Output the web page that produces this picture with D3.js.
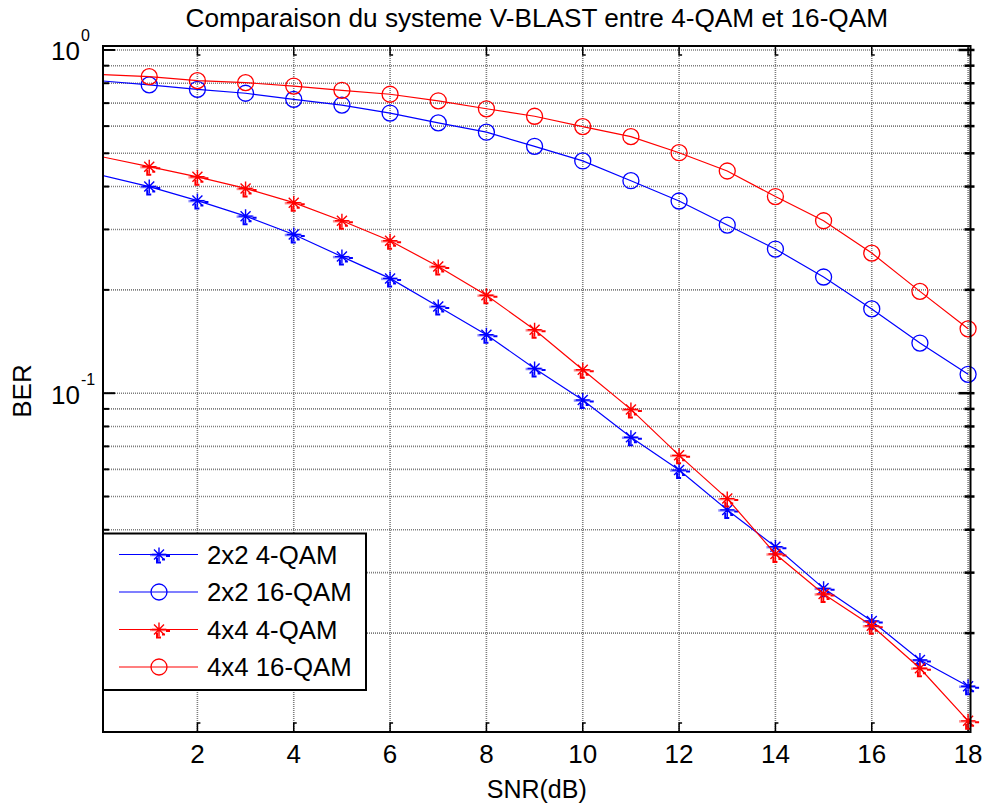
<!doctype html>
<html lang="fr">
<head>
<meta charset="utf-8">
<title>V-BLAST 4-QAM / 16-QAM</title>
<script src="https://cdn.jsdelivr.net/npm/d3@7"></script>
<style>
body { margin: 0; background: #fff; }
text { font-family: "Liberation Sans", Arial, sans-serif; fill: #000; }
</style>
</head>
<body>
<div id="chart"></div>
<script>

// SNR en dB (le point 0 existe mais tombe juste hors de l'axe)
var snr = [0, 1, 2, 3, 4, 5, 6, 7, 8, 9, 10, 11, 12, 13, 14, 15, 16, 17, 18];

var ber2x2_4qam  = [0.432, 0.400, 0.364, 0.328, 0.290, 0.250, 0.216, 0.179, 0.148, 0.118, 0.0955, 0.0744, 0.0597, 0.0457, 0.0357, 0.0270, 0.0217, 0.0167, 0.0140];
var ber2x2_16qam = [0.813, 0.791, 0.768, 0.748, 0.718, 0.691, 0.655, 0.613, 0.576, 0.524, 0.475, 0.416, 0.363, 0.309, 0.263, 0.218, 0.176, 0.140, 0.1135];
var ber4x4_4qam  = [0.489, 0.457, 0.427, 0.395, 0.359, 0.318, 0.278, 0.234, 0.193, 0.153, 0.117, 0.0897, 0.0659, 0.0493, 0.0340, 0.0260, 0.0210, 0.0158, 0.0111];
var ber4x4_16qam = [0.848, 0.836, 0.814, 0.803, 0.785, 0.763, 0.743, 0.711, 0.674, 0.641, 0.598, 0.559, 0.502, 0.444, 0.374, 0.318, 0.256, 0.198, 0.154];

var seriesNames  = ["2x2 4-QAM", "2x2 16-QAM", "4x4 4-QAM", "4x4 16-QAM"];
var seriesColors = ["#0000ff", "#0000ff", "#ff0000", "#ff0000"];
var seriesMarker = ["star", "circle", "star", "circle"];

var xTicks = [2, 4, 6, 8, 10, 12, 14, 16, 18];
var yTickExps = [0, -1];

var width = 984, height = 805;
var pLeft = 103, pRight = 970.5, pTop = 46, pBottom = 732;

var svg = d3.select("#chart").append("svg")
    .attr("width", width)
    .attr("height", height);

var x = d3.scaleLinear().domain([0.04, 18.05]).range([pLeft, pRight]);
var y = d3.scaleLog().domain([0.0103, 1.027]).range([pBottom, pTop]);

var allSeries = [ber2x2_4qam, ber2x2_16qam, ber4x4_4qam, ber4x4_16qam];

// grille
var grid = svg.append("g");
var minorY = [];
[0.01, 0.1].forEach(function(dec) {
	for (var k = 1; k <= 9; k++) {
		var v = dec * k;
		if (v >= y.domain()[0] && v <= y.domain()[1]) minorY.push(v);
	}
});
minorY.push(1);

grid.selectAll("line.gy")
	.data(minorY)
	.enter().append("line")
	.attr("x1", pLeft).attr("x2", pRight)
	.attr("y1", function(d) { return y(d); })
	.attr("y2", function(d) { return y(d); })
	.attr("stroke", "#7c7c7c")
	.attr("stroke-width", 1.6)
	.attr("stroke-dasharray", "1,1");

grid.selectAll("line.gx")
	.data(xTicks)
	.enter().append("line")
	.attr("x1", function(d) { return x(d); })
	.attr("x2", function(d) { return x(d); })
	.attr("y1", pTop).attr("y2", pBottom)
	.attr("stroke", "#7c7c7c")
	.attr("stroke-width", 1.6)
	.attr("stroke-dasharray", "1,1");

// ticks (a l'interieur, style matlab)
var ticks = svg.append("g").attr("stroke", "#000");
minorY.forEach(function(v) {
	var major = (v === 1 || Math.abs(v - 0.1) < 1e-9);
	var len = major ? 12 : 6;
	ticks.append("line").attr("x1", pLeft).attr("x2", pLeft + len)
		.attr("y1", y(v)).attr("y2", y(v)).attr("stroke-width", 2);
	ticks.append("line").attr("x1", pRight - len).attr("x2", pRight + 4)
		.attr("y1", y(v)).attr("y2", y(v)).attr("stroke-width", 2.5);
});
xTicks.forEach(function(t) {
	var px = x(t);
	ticks.append("path")
		.attr("d", "M" + px + "," + pBottom + "V" + (pBottom - 9) + "h3")
		.attr("fill", "none").attr("stroke-width", 1.5);
	ticks.append("path")
		.attr("d", "M" + px + "," + pTop + "V" + (pTop + 9) + "h3")
		.attr("fill", "none").attr("stroke-width", 1.5);
});

// courbes
svg.append("clipPath").attr("id", "plotclip")
	.append("rect")
	.attr("x", pLeft).attr("y", pTop)
	.attr("width", pRight - pLeft).attr("height", pBottom - pTop);

var line = d3.line()
	.x(function(d) { return x(d[0]); })
	.y(function(d) { return y(d[1]); });

function starPath(cx, cy) {
	var a = 7, b = 5;
	return "M" + (cx - a) + "," + cy + "h" + (2 * a) +
		"M" + cx + "," + (cy - a) + "v" + (2 * a) +
		"M" + (cx - b) + "," + (cy - b) + "l" + (2 * b) + "," + (2 * b) +
		"M" + (cx - b) + "," + (cy + b) + "l" + (2 * b) + "," + (-2 * b);
}
// petits traits parasites autour des etoiles
function starBits(cx, cy) {
	return "M" + (cx + 7) + "," + (cy + 1.5) + "h4" +
		"M" + (cx - 2) + "," + (cy + 3) + "v5h4" +
		"M" + (cx + 3) + "," + (cy + 5) + "h3";
}

function drawMarker(g, kind, color, cx, cy) {
	if (kind === "circle") {
		g.append("circle").attr("cx", cx).attr("cy", cy).attr("r", 8)
			.attr("fill", "none").attr("stroke", color).attr("stroke-width", 1.3);
	} else {
		g.append("line").attr("x1", cx - 9).attr("x2", cx + 8)
			.attr("y1", cy + 0.5).attr("y2", cy + 0.5)
			.attr("stroke", color).attr("stroke-opacity", 0.45).attr("stroke-width", 2.5);
		g.append("path").attr("d", starPath(cx, cy))
			.attr("fill", "none").attr("stroke", color).attr("stroke-width", 1.4);
		g.append("path").attr("d", starBits(cx, cy))
			.attr("fill", "none").attr("stroke", color).attr("stroke-width", 2);
	}
}

var plots = svg.append("g");
allSeries.forEach(function(vals, i) {
	var pts = snr.map(function(s, j) { return [s, vals[j]]; });
	plots.append("path")
		.datum(pts)
		.attr("clip-path", "url(#plotclip)")
		.attr("fill", "none")
		.attr("stroke", seriesColors[i])
		.attr("stroke-width", 1.2)
		.attr("d", line);
	var mg = plots.append("g");
	pts.forEach(function(p) {
		if (p[0] < x.domain()[0]) return;
		drawMarker(mg, seriesMarker[i], seriesColors[i], x(p[0]), y(p[1]));
	});
});

// cadre
svg.append("rect")
	.attr("x", pLeft).attr("y", pTop)
	.attr("width", pRight - pLeft).attr("height", pBottom - pTop)
	.attr("fill", "none").attr("stroke", "#000").attr("stroke-width", 2);

// etiquettes des axes
svg.selectAll("text.xt")
	.data(xTicks)
	.enter().append("text")
	.attr("x", function(d) { return x(d); })
	.attr("y", 763)
	.attr("text-anchor", "middle")
	.style("font-size", "26px")
	.text(function(d) { return d; });

yTickExps.forEach(function(e) {
	var py = y(Math.pow(10, e));
	svg.append("text").attr("x", 80).attr("y", py + 10.5)
		.attr("text-anchor", "end").style("font-size", "26px").text("10");
	svg.append("text").attr("x", 81).attr("y", py - 8.5)
		.style("font-size", "16px").text(e === 0 ? "0" : "-1");
});

svg.append("text")
	.attr("x", (pLeft + pRight) / 2).attr("y", 27)
	.attr("text-anchor", "middle")
	.style("font-size", "26.2px")
	.text("Comparaison du systeme V-BLAST entre 4-QAM et 16-QAM");

svg.append("text")
	.attr("x", (pLeft + pRight) / 2).attr("y", 798)
	.attr("text-anchor", "middle")
	.style("font-size", "25px")
	.text("SNR(dB)");

svg.append("text")
	.attr("transform", "translate(31,391) rotate(-90)")
	.attr("text-anchor", "middle")
	.style("font-size", "26px")
	.text("BER");

// legende
var lg = svg.append("g");
lg.append("rect")
	.attr("x", pLeft).attr("y", 533.5)
	.attr("width", 263).attr("height", 156.5)
	.attr("fill", "#fff").attr("stroke", "#000").attr("stroke-width", 2);

seriesNames.forEach(function(name, i) {
	var ry = 554.5 + i * 37.5;
	lg.append("line").attr("x1", 119).attr("x2", 198)
		.attr("y1", ry).attr("y2", ry)
		.attr("stroke", seriesColors[i]).attr("stroke-width", 1.2);
	drawMarker(lg, seriesMarker[i], seriesColors[i], 159, ry);
	lg.append("text").attr("x", 207).attr("y", ry + 9)
		.style("font-size", "25.8px")
		.text(name);
});

</script>
</body>
</html>
